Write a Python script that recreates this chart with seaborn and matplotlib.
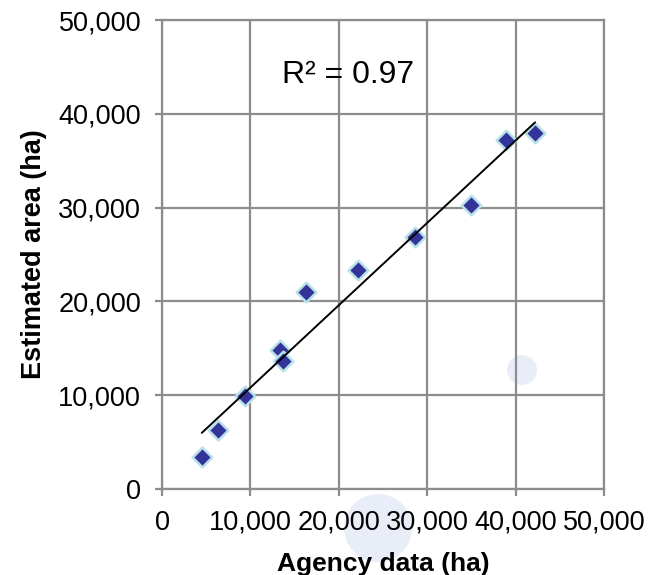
import numpy as np
import pandas as pd
import seaborn as sns
import matplotlib.pyplot as plt
from matplotlib.patches import Ellipse
from matplotlib.ticker import FuncFormatter

# 数据
agency_ha = [4500, 6300, 9400, 13300, 13700, 16300, 22200, 28600, 35000, 38900, 42200]
estimated_ha = [3400, 6250, 9900, 14800, 13600, 21000, 23350, 26850, 30300, 37200, 38000]
r2_label = "R² = 0.97"
ticks = [0, 10000, 20000, 30000, 40000, 50000]

df = pd.DataFrame({"agency": agency_ha, "estimated": estimated_ha})

sns.set_style("white")
plt.rcParams['font.family'] = ['Liberation Sans', 'DejaVu Sans']
plt.rcParams['text.color'] = 'black'

fig = plt.figure(figsize=(6.6, 5.75), dpi=100)
ax = fig.add_axes([162 / 660, 1 - 489 / 575, 442 / 660, 469 / 575])
ax.set_facecolor('none')

grid_c = '#8c8c8c'

sns.regplot(data=df, x="agency", y="estimated", ax=ax, ci=None, truncate=True,
            marker='D',
            scatter_kws=dict(s=100, color='#333399', edgecolors='#b8e2e8', linewidths=1.8, alpha=1, zorder=3),
            line_kws=dict(color='black', lw=1.4, zorder=4))

ax.set_xlim(0, 50000)
ax.set_ylim(0, 50000)
ax.set_xticks(ticks)
ax.set_yticks(ticks)
fmt = FuncFormatter(lambda v, p: f"{int(v):,}")
ax.xaxis.set_major_formatter(fmt)
ax.yaxis.set_major_formatter(fmt)

ax.grid(True, color=grid_c, lw=1.6)
ax.set_axisbelow(True)
for s in ax.spines.values():
    s.set_color(grid_c)
    s.set_linewidth(1.6)

ax.tick_params(axis='both', which='major', direction='out', length=5, width=1.6,
               color=grid_c, labelsize=19.5, labelcolor='black', pad=10,
               bottom=True, left=True)

ax.set_xlabel('Agency data (ha)', fontsize=19, fontweight='bold', labelpad=12, color='black')
ax.set_ylabel('Estimated area (ha)', fontsize=19.5, fontweight='bold', labelpad=8, color='black')

ax.text(21000, 44100, r2_label, fontsize=23, ha='center', va='center', zorder=5)

# 背景中淡淡的圆形水印
for cx, cy, r in [(378, 528, 34), (522, 370, 15)]:
    fig.patches.append(Ellipse((cx / 660, 1 - cy / 575), 2 * r / 660, 2 * r / 575,
                               transform=fig.transFigure, facecolor='#e9edf8',
                               edgecolor='none', zorder=-1))

plt.savefig('out.png', dpi=100)
plt.close()
